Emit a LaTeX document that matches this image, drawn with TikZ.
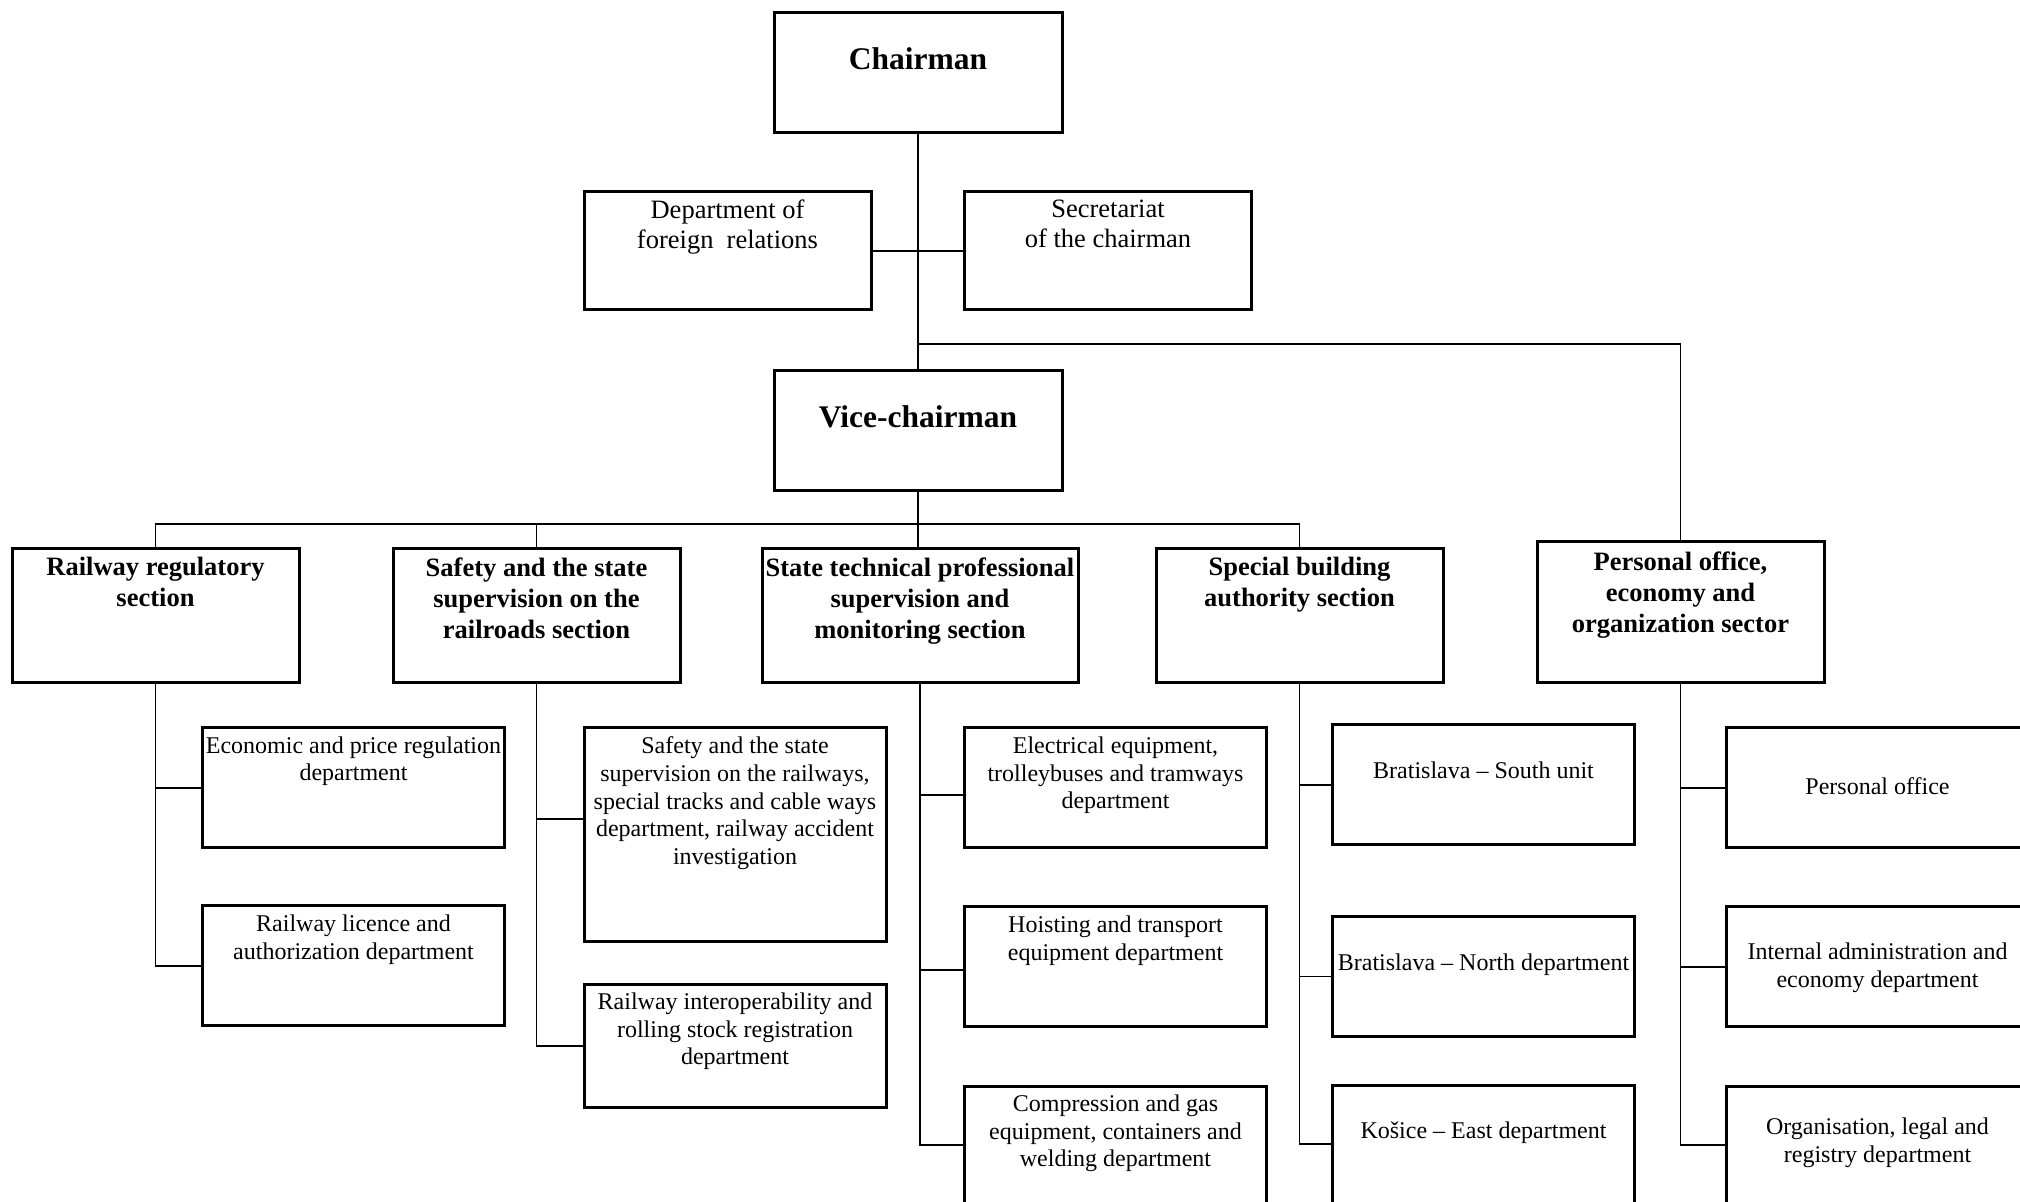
\documentclass[tikz,border=0pt]{standalone}
\usepackage{fontspec}
\setmainfont{Liberation Serif}
\usepackage{tikz}

\begin{document}
\begin{tikzpicture}[x=0.5pt, y=-0.5pt, line width=0.55pt,
    orgbox/.style = {draw, line width=1.5pt, inner sep=0pt, outer sep=0pt},
    boss/.style = {orgbox, minimum width=144pt, minimum height=60pt},
    sect/.style = {orgbox, minimum width=143.5pt, minimum height=67pt},
    dept/.style = {orgbox, minimum width=151pt, minimum height=60pt},
    bosstxt/.style = {anchor=north, inner sep=0pt, font=\fontsize{15.75}{19}\selectfont\bfseries, execute at begin node=\strut},
    secttxt/.style = {anchor=north, inner sep=0pt, align=center, font=\fontsize{13.25}{15.5}\selectfont\bfseries, execute at begin node=\strut},
    toptxt/.style = {anchor=north, inner sep=0pt, align=center, font=\fontsize{13.25}{15}\selectfont, execute at begin node=\strut},
    depttxt/.style = {anchor=north, inner sep=0pt, align=center, font=\fontsize{12}{13.9}\selectfont, execute at begin node=\strut}]
    \useasboundingbox (0,0) rectangle (2020,1202);

    \node[boss] (chair) at (918,73) {};
    \node[orgbox, minimum width=143.5pt, minimum height=59pt] (forrel) at (727.5,251) {};
    \node[orgbox, minimum width=143.5pt, minimum height=59pt] (secr) at (1108,251) {};
    \node[boss] (vice) at (918,430.5) {};

    \node[sect] (rrs) at (155.5,616) {};
    \node[sect] (ssr) at (536.5,616) {};
    \node[sect, minimum width=158pt] (stp) at (920,616) {};
    \node[sect] (sba) at (1299.5,616) {};
    \node[sect, minimum height=70.5pt] (pes) at (1680.5,612.5) {};

    \node[dept] (rr1) at (353.5,788) {};
    \node[dept] (rr2) at (353.5,966) {};
    \node[dept, minimum height=107pt] (ss1) at (735,835) {};
    \node[dept, minimum height=61pt] (ss2) at (735,1046) {};
    \node[dept] (st1) at (1115.5,788) {};
    \node[dept] (st2) at (1115.5,967) {};
    \node[dept, minimum height=59pt] (st3) at (1115.5,1145) {};
    \node[dept] (sb1) at (1483.5,785) {};
    \node[dept] (sb2) at (1483.5,976.5) {};
    \node[dept, minimum height=59pt] (sb3) at (1483.5,1144) {};
    \node[dept] (pe1) at (1877.5,788) {};
    \node[dept] (pe2) at (1877.5,967) {};
    \node[dept, minimum height=59pt] (pe3) at (1877.5,1145) {};

    \node[bosstxt] (chair-t) at (918,42.7) {Chairman};
    \node[toptxt] (forrel-t) at (727.5,199.5) {Department of\\foreign~ relations};
    \node[toptxt] (secr-t) at (1108,199.5) {Secretariat\\of the chairman};
    \node[bosstxt] (vice-t) at (918,400) {Vice-chairman};

    \node[secttxt] (rrs-t) at (155.5,556.8) {Railway regulatory\\section};
    \node[secttxt] (ssr-t) at (536.5,556.8) {Safety and the state\\supervision on the\\railroads section};
    \node[secttxt] (stp-t) at (920,556.8) {State technical professional\\supervision and\\monitoring section};
    \node[secttxt] (sba-t) at (1299.5,556.8) {Special building\\authority section};
    \node[secttxt] (pes-t) at (1680.5,550.8) {Personal office,\\economy and\\organization sector};

    \node[depttxt] (rr1-t) at (353.5,736) {Economic and price regulation\\department};
    \node[depttxt] (rr2-t) at (353.5,914) {Railway licence and\\authorization department};
    \node[depttxt] (ss1-t) at (735,736) {Safety and the state\\supervision on the railways,\\special tracks and cable ways\\department, railway accident\\investigation};
    \node[depttxt] (ss2-t) at (735,992) {Railway interoperability and\\rolling stock registration\\department};
    \node[depttxt] (st1-t) at (1115.5,736) {Electrical equipment,\\trolleybuses and tramways\\department};
    \node[depttxt] (st2-t) at (1115.5,915) {Hoisting and transport\\equipment department};
    \node[depttxt] (st3-t) at (1115.5,1094) {Compression and gas\\equipment, containers and\\welding department};
    \node[depttxt] (sb1-t) at (1483.5,758.5) {Bratislava – South unit};
    \node[depttxt] (sb2-t) at (1483.5,950.5) {Bratislava – North department};
    \node[depttxt] (sb3-t) at (1483.5,1118.5) {Košice – East department};
    \node[depttxt] (pe1-t) at (1877.5,774) {Personal office};
    \node[depttxt] (pe2-t) at (1877.5,942) {Internal administration and\\economy department};
    \node[depttxt] (pe3-t) at (1877.5,1117) {Organisation, legal and\\registry department};

    \coordinate (fork) at (918,344);
    \coordinate (bus) at (918,524);

    \draw (chair) -- (vice);
    \draw (forrel) -- (secr);
    \draw (fork) -| (pes);
    \draw (vice) -- (vice |- stp.north);
    \draw (rrs) |- (bus) -| (sba);
    \draw (ssr) |- (bus);

    \draw (rrs) |- (rr1);
    \draw (rrs) |- (rr2);
    \draw (ssr) |- ([yshift=8pt]ss1.west);
    \draw (ssr) |- (ss2);
    \draw (stp) |- ([yshift=-3.5pt]st1.west);
    \draw (stp) |- ([yshift=-1.5pt]st2.west);
    \draw (stp) |- (st3);
    \draw (sba) |- (sb1);
    \draw (sba) |- (sb2);
    \draw (sba) |- (sb3);
    \draw (pes) |- (pe1);
    \draw (pes) |- (pe2);
    \draw (pes) |- (pe3);
\end{tikzpicture}
\end{document}
